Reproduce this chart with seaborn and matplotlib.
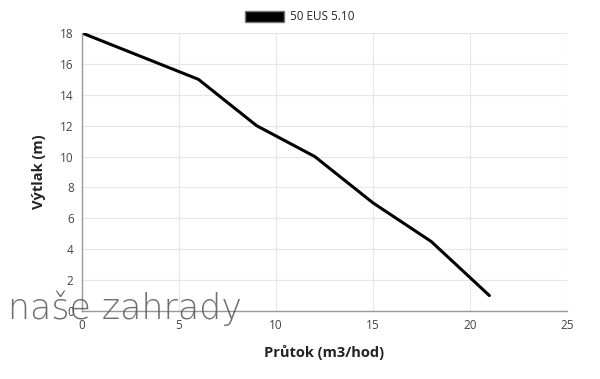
import matplotlib
matplotlib.use("Agg")
import matplotlib.pyplot as plt
import seaborn as sns
import pandas as pd
from matplotlib.patches import Patch

flow = [0, 6, 9, 12, 15, 18, 21]
head = [18, 15, 12, 10, 7, 4.5, 1]
series_name = "50 EUS 5.10"
x_ticks = [0, 5, 10, 15, 20, 25]
y_ticks = [0, 2, 4, 6, 8, 10, 12, 14, 16, 18]

sns.set_theme(style="white")
plt.rcParams['font.family'] = ['Open Sans', 'DejaVu Sans']

df = pd.DataFrame({"Průtok": flow, "Výtlak": head, "series": series_name})

fig = plt.figure(figsize=(6, 3.79), dpi=100)
ax = fig.add_axes([82/600, 1-311/379, (567-82)/600, (311-33)/379])
sns.lineplot(data=df, x="Průtok", y="Výtlak", ax=ax, color="black", linewidth=2.2,
             legend=False)
ax.set_xlim(0, 25)
ax.set_ylim(0, 18)
ax.set_xticks(x_ticks)
ax.set_yticks(y_ticks)
ax.grid(True, color="#e6e6e6", linewidth=0.8)
for s in ["top", "right"]:
    ax.spines[s].set_visible(False)
for s in ["left", "bottom"]:
    ax.spines[s].set_color("#999999")
    ax.spines[s].set_linewidth(1.0)
ax.tick_params(axis="both", labelsize=8.5, colors="#444444", length=0, pad=6)
ax.set_xlabel("Průtok (m3/hod)", fontsize=10.5, fontweight="bold", color="#222222", labelpad=9)
ax.set_ylabel("Výtlak (m)", fontsize=10.5, fontweight="bold", color="#222222", labelpad=10)

handle = Patch(facecolor="black", edgecolor="#777777", label=series_name)
fig.legend(handles=[handle], loc="center", bbox_to_anchor=(0.5, 1-17/379), frameon=False,
           fontsize=8.5, handlelength=3.3, handleheight=1.1, handletextpad=0.5)

fig.text(8/600, 1-308/379, "naše zahrady", fontsize=25, color="#555555", alpha=0.85,
         va="center", ha="left", family=["DejaVu Sans"], fontweight="light")

fig.savefig("out.png", dpi=100)
